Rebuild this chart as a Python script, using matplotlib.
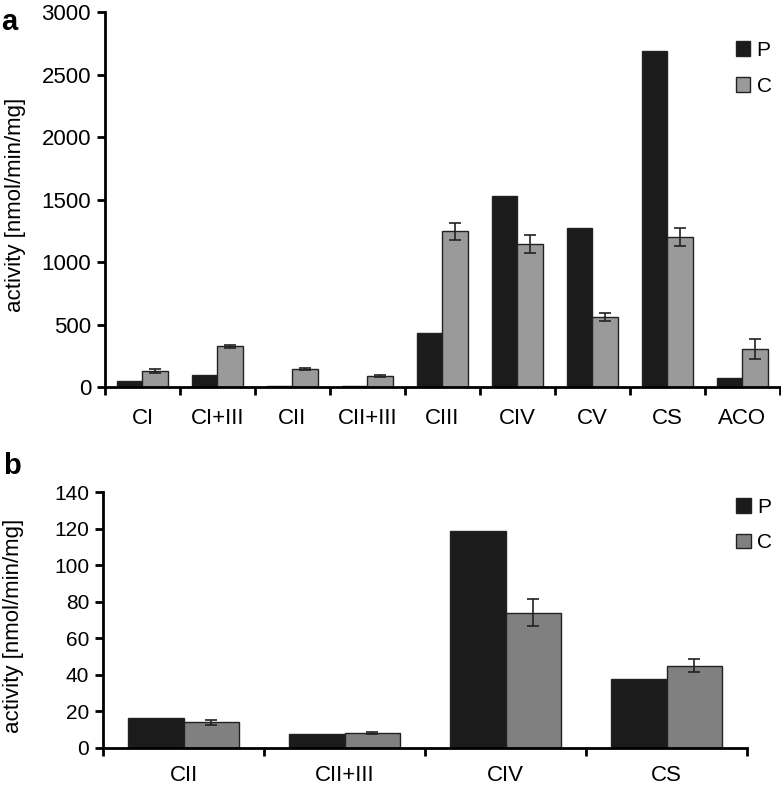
import numpy as np
import matplotlib.pyplot as plt

plt.rcParams['font.family'] = ['Liberation Sans', 'DejaVu Sans']

# panel a
cats_a = ['CI', 'CI+III', 'CII', 'CII+III', 'CIII', 'CIV', 'CV', 'CS', 'ACO']
p_a = [50, 95, 10, 10, 430, 1525, 1270, 2690, 70]
c_a = [130, 325, 145, 85, 1245, 1145, 560, 1200, 305]
c_a_err = [15, 15, 10, 8, 65, 75, 30, 75, 80]

# panel b
cats_b = ['CII', 'CII+III', 'CIV', 'CS']
p_b = [16.5, 7.8, 118.5, 37.5]
c_b = [14, 8, 74, 45]
c_b_err = [1.5, 0.6, 7.5, 3.5]

black = '#1b1b1b'
grey_a = '#9a9a9a'
grey_b = '#808080'
edge = '#222222'

fig = plt.figure(figsize=(7.81, 7.91), dpi=100)
ax1 = fig.add_axes([0.1344, 0.5107, 0.8643, 0.4741])
ax2 = fig.add_axes([0.1319, 0.0544, 0.8246, 0.3236])


def draw(ax, cats, p, c, err, grey, ymax, ystep, ysize, xsize, xpad, lab_x, lab_y, leg):
    x = np.arange(len(cats))
    w = 0.345
    ax.bar(x - w / 2, p, w, color=black, edgecolor=edge, linewidth=1, label='P')
    ax.bar(x + w / 2, c, w, color=grey, edgecolor=edge, linewidth=1, label='C')
    ax.errorbar(x + w / 2, c, yerr=err, fmt='none', ecolor='#222222',
                elinewidth=1.2, capsize=4, capthick=1.2)
    ax.set_xlim(-0.5, len(cats) - 0.5)
    ax.set_ylim(0, ymax)
    ax.set_yticks(np.arange(0, ymax + 1, ystep))
    ax.set_xticks(x)
    ax.set_xticklabels(cats)
    ax.set_xticks(np.arange(len(cats) + 1) - 0.5, minor=True)
    ax.tick_params(axis='x', which='major', length=0, pad=xpad, labelsize=xsize)
    ax.tick_params(axis='x', which='minor', length=6, width=2, direction='out')
    ax.tick_params(axis='y', length=6, width=2, labelsize=ysize, pad=4)
    for s in ['top', 'right']:
        ax.spines[s].set_visible(False)
    for s in ['left', 'bottom']:
        ax.spines[s].set_linewidth(2)
    ax.set_ylabel('activity [nmol/min/mg]', fontsize=16)
    ax.yaxis.set_label_coords(lab_x, lab_y)
    ax.legend(loc='upper right', bbox_to_anchor=leg, frameon=False,
              fontsize=15, handlelength=0.7, handleheight=0.7,
              handletextpad=0.3, labelspacing=0.8, borderaxespad=0)


draw(ax1, cats_a, p_a, c_a, c_a_err, grey_a, 3000, 500, 16, 16, 15,
     -0.117, 0.485, (1.0, 0.945))
draw(ax2, cats_b, p_b, c_b, c_b_err, grey_b, 140, 20, 15, 16, 12,
     -0.122, 0.477, (1.052, 1.01))

fig.text(0.002, 0.99, 'a', fontsize=21, fontweight='bold', va='top')
fig.text(0.004, 0.428, 'b', fontsize=21, fontweight='bold', va='top')

fig.savefig('out.png', dpi=100)
